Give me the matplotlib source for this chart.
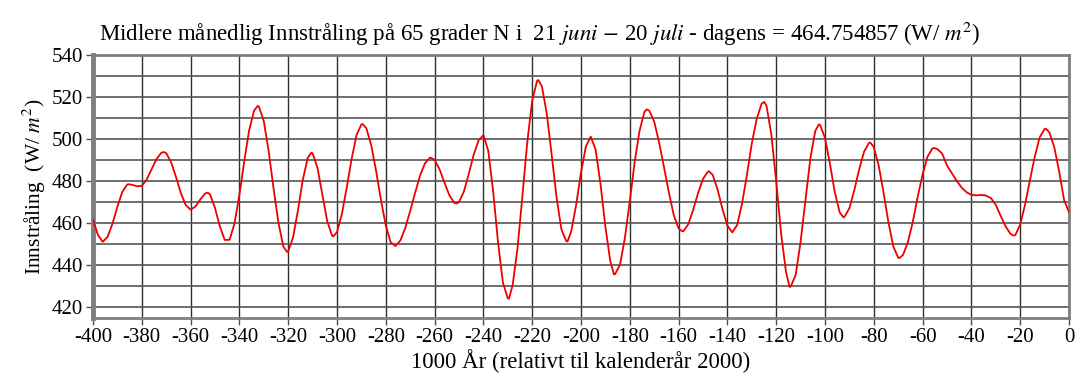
import numpy as np
import matplotlib
matplotlib.use("Agg")
import matplotlib.pyplot as plt

# years (kyr relative to 2000) and insolation, every 2 kyr
years = np.arange(-400, 1, 2)
insolation = [
    461.8, 454.5, 451.2, 453.6, 459.9, 467.9, 474.9, 478.4, 478.3, 477.6,
    477.8, 480.8, 485.7, 490.5, 493.5, 493.4, 489.1, 482.1, 474.4, 468.7,
    466.5, 468.0, 471.4, 474.2, 473.7, 467.3, 458.5, 452.1, 452.2, 460.0,
    473.5, 489.6, 504.2, 513.5, 515.5, 508.6, 494.3, 476.6, 460.3, 449.0,
    446.7, 453.3, 466.2, 480.7, 491.1, 493.3, 486.4, 473.7, 461.0, 454.1,
    455.8, 464.4, 477.0, 490.6, 501.9, 507.0, 505.3, 497.3, 485.1, 471.2,
    459.0, 451.0, 449.2, 451.9, 457.8, 465.9, 474.4, 482.5, 488.4, 491.1,
    490.1, 485.8, 479.5, 473.5, 469.8, 470.1, 475.1, 483.4, 492.5, 499.3,
    501.9, 494.5, 475.2, 451.1, 431.8, 424.4, 430.7, 448.3, 473.1, 498.7,
    518.2, 527.7, 525.0, 512.0, 492.4, 472.2, 457.0, 451.5, 456.2, 468.6,
    484.1, 496.5, 501.2, 495.0, 478.7, 458.4, 442.1, 435.9, 440.4, 453.1,
    470.4, 489.1, 504.0, 513.0, 513.5, 508.4, 498.5, 486.8, 474.8, 464.0,
    457.6, 456.3, 459.6, 466.5, 474.4, 481.1, 484.6, 483.0, 476.0, 466.7,
    458.9, 455.7, 459.2, 469.3, 483.0, 497.9, 509.6, 516.8, 516.0, 502.4,
    480.0, 455.4, 437.0, 430.0, 435.5, 451.2, 471.2, 490.8, 503.9, 506.7,
    500.6, 488.5, 474.9, 465.3, 463.1, 467.2, 475.7, 485.6, 494.0, 498.2,
    496.3, 487.5, 474.6, 460.5, 449.0, 443.7, 445.0, 451.1, 460.8, 472.6,
    483.2, 491.6, 495.6, 495.3, 493.2, 487.5, 483.8, 480.2, 477.0, 474.8,
    473.5, 473.3, 473.5, 473.2, 472.0, 468.8, 463.5, 458.6, 455.0, 454.4,
    459.4, 468.9, 480.5, 491.8, 500.9, 504.8, 503.2, 496.0, 484.5, 471.0,
    465.3,
]

# peaks and troughs (between the 2 kyr samples)
peak_years = [-385.5, -371, -353, -332.5, -320.5, -310.5, -301.5, -289.5,
              -261.5, -251, -229.5, -217.5, -205.5, -186.5, -173, -158.5,
              -147.5, -125, -114.5, -102.5, -92.5, -81.5, -69.5, -55.5,
              -22.8, -9.5]
peak_values = [478.6, 493.9, 474.6, 515.8, 446.4, 493.6, 453.8, 507.2,
               491.2, 469.4, 424.2, 528.1, 451.4, 435.7, 514.2, 456.2,
               484.7, 517.7, 429.8, 507.0, 462.9, 498.4, 443.5, 495.8,
               454.2, 505.0]

x_ticks = list(range(-400, 1, 20))
x_labels = [f"-{abs(v)}" if v < 0 else str(v) for v in x_ticks]
y_ticks = list(range(420, 541, 20))

plt.rcParams["font.family"] = ["Liberation Serif", "DejaVu Serif"]
plt.rcParams["mathtext.fontset"] = "stix"

all_years = np.concatenate([years, peak_years])
all_values = np.concatenate([insolation, peak_values])
order = np.argsort(all_years, kind="stable")

fig = plt.figure(figsize=(10.8, 3.83), dpi=100)
ax = fig.add_axes([0.0861, 0.1697, 0.9037, 0.6867])

ax.plot(all_years[order], all_values[order], color="#ee0000", lw=1.3,
        solid_joinstyle="round", zorder=3)

ax.set_xlim(-400, 0)
ax.set_ylim(415, 540)
ax.set_xticks(x_ticks)
ax.set_xticklabels(x_labels, fontsize=15)
ax.set_yticks(y_ticks)
ax.set_yticklabels([str(v) for v in y_ticks], fontsize=15)
ax.set_yticks(range(420, 541, 10), minor=True)
ax.tick_params(axis="both", which="major", length=5, width=1, color="#505050", pad=2)
ax.tick_params(axis="y", which="minor", length=0)

ax.grid(True, axis="x", which="major", color="#303030", lw=1.0)
ax.grid(True, axis="y", which="both", color="#555555", lw=1.2)

for side in ["top", "right", "bottom"]:
    ax.spines[side].set_color("#7f7f7f")
    ax.spines[side].set_linewidth(2)
ax.spines["left"].set_color("#7f7f7f")
ax.spines["left"].set_linewidth(3.5)

ax.set_xlabel("1000 År (relativt til kalenderår 2000)", fontsize=16.5, labelpad=2)
ax.set_ylabel("Innstråling  (W/ $m^2$)", fontsize=15.5, labelpad=3)

fig.text(0.5, 0.912,
         "Midlere månedlig Innstråling på 65 grader N i  21 $juni$ $-$ 20 $juli$"
         " - dagens = 464.754857 (W/ $m^{2}$)",
         ha="center", va="center", fontsize=16.5)

fig.savefig("out.png", dpi=100)
